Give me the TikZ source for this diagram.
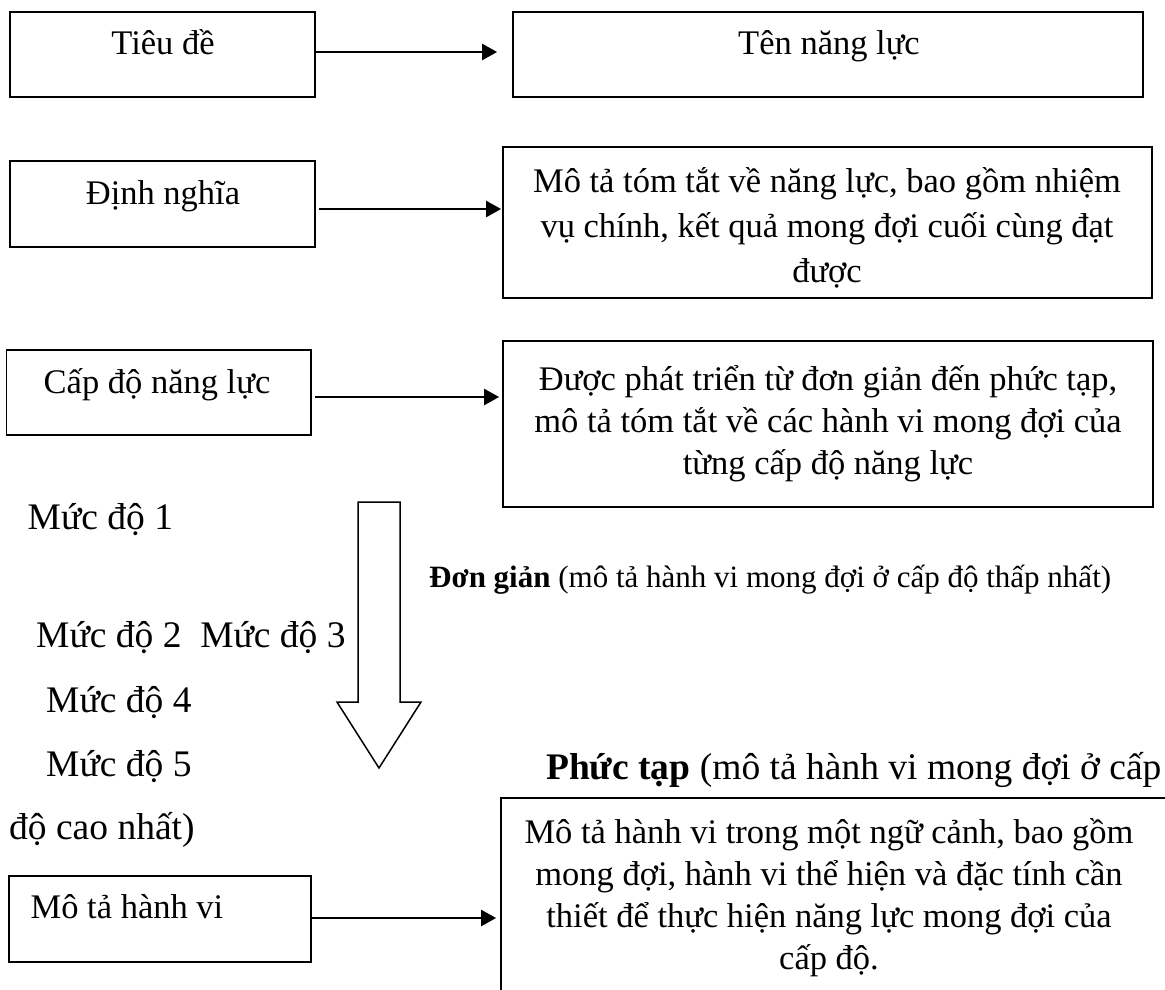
\documentclass[tikz,border=0pt]{standalone}
\usepackage{fontspec}
\setmainfont{Liberation Serif}
\usetikzlibrary{arrows.meta}
\begin{document}
\begin{tikzpicture}[x=1pt,y=-1pt,
  box/.style={draw,line width=1.8pt,inner sep=0pt},
  lbl/.style={inner sep=0pt,text height=26pt,text depth=3.5pt,font=\fontsize{34.5}{44}\selectfont},
  para/.style={inner sep=0pt,align=center,font=\fontsize{34.5}{#1}\selectfont},
  lvl/.style={inner sep=0pt,anchor=west,text height=28pt,text depth=4pt,font=\fontsize{37.5}{44}\selectfont},
  arr/.style={line width=2.6pt,-{Triangle[length=15pt,width=16pt]}},
  bigarrow/.style={draw,line width=1.5pt,line join=miter}
]
\clip (0,0) rectangle (1165,989);
\fill[white] (0,0) rectangle (1165,989);

% boxes
\node[box,minimum width=305.4pt,minimum height=85pt] (b1) at (162.3,54.5) {};
\node[box,minimum width=630pt,minimum height=85pt] (b2) at (828,54.5) {};
\node[box,minimum width=305.4pt,minimum height=86pt] (b3) at (162.3,204) {};
\node[box,minimum width=649pt,minimum height=151pt] (b4) at (827.5,222.5) {};
\node[box,minimum width=304.5pt,minimum height=85pt] (b5) at (158.75,392.5) {};
\node[box,minimum width=650pt,minimum height=166pt] (b6) at (828,424) {};
\node[box,minimum width=302pt,minimum height=86pt] (b7) at (160,919) {};
\node[box,minimum width=679pt,minimum height=202pt] (b8) at (840.5,899) {};

% texts in boxes
\node[lbl] (t1) at (163,43) {Tiêu đề};
\node[lbl] (t2) at (829,43) {Tên năng lực};
\node[lbl] (t3) at (163,193) {Định nghĩa};
\node[para=45] (t4) at (827,228) {Mô tả tóm tắt về năng lực, bao gồm nhiệm\\vụ chính, kết quả mong đợi cuối cùng đạt\\được};
\node[lbl] (t5) at (157,382) {Cấp độ năng lực};
\node[para=42] (t6) at (828,424) {Được phát triển từ đơn giản đến phức tạp,\\mô tả tóm tắt về các hành vi mong đợi của\\từng cấp độ năng lực};
\node[lbl] (t7) at (127,907) {Mô tả hành vi};
\node[para=42] (t8) at (829,898) {Mô tả hành vi trong một ngữ cảnh, bao gồm\\mong đợi, hành vi thể hiện và đặc tính cần\\thiết để thực hiện năng lực mong đợi của\\cấp độ.};

% arrows
\coordinate (y1) at (0,52);
\coordinate (y2) at (0,209);
\coordinate (y3) at (0,397);
\coordinate (y4) at (0,918);
\draw[arr] ([xshift=-2pt]b1.east |- y1) -- ([xshift=-15pt]b2.west |- y1);
\draw[arr] ([xshift=3pt]b3.east |- y2) -- ([xshift=-1pt]b4.west |- y2);
\draw[arr] ([xshift=3pt]b5.east |- y3) -- ([xshift=-3pt]b6.west |- y3);
\draw[arr] (b7.east |- y4) -- ([xshift=-4pt]b8.west |- y4);

% big down arrow
\draw[bigarrow] (358,502) -- (400,502) -- (400,702) -- (421,702) -- (379,768) -- (337,702) -- (358,702) -- cycle;

% level labels
\node[lvl] (m1) at (27.5,517) {Mức độ 1};
\node[lvl] (m23) at (36,635) {Mức độ 2\ \ Mức độ 3};
\node[lvl] (m4) at (46,700) {Mức độ 4};
\node[lvl] (m5) at (46,764) {Mức độ 5};
\node[lvl] (m6) at (9,827) {độ cao nhất)};

\node[inner sep=0pt,anchor=west,text height=23pt,text depth=3pt,font=\fontsize{31}{40}\selectfont] (simple) at (429,577) {\textbf{Đơn giản} (mô tả hành vi mong đợi ở cấp độ thấp nhất)};
\node[lvl] (complex) at (546,767) {\textbf{Phức tạp} (mô tả hành vi mong đợi ở cấp};
\end{tikzpicture}
\end{document}
